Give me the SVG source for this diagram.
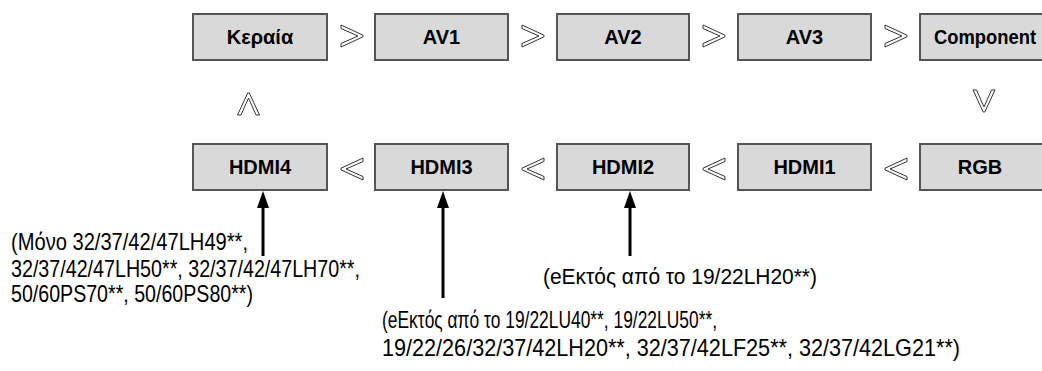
<svg xmlns="http://www.w3.org/2000/svg" width="1042" height="371" viewBox="0 0 1042 371">
<style>
.box{fill:#d9d9d9;stroke:#555;stroke-width:2}
.lbl{font-family:"Liberation Sans",Arial,sans-serif;font-weight:bold;font-size:20px;fill:#000;text-anchor:middle}
.note{font-family:"Liberation Sans",Arial,sans-serif;font-size:24px;fill:#000}
.note2{font-family:"Liberation Sans",Arial,sans-serif;font-size:22px;fill:#000}
.chev{fill:#fff;stroke:#333;stroke-width:1}
.line{stroke:#000;stroke-width:3;fill:none}
.head{fill:#000}
</style>
<defs>
<polygon id="chR" class="chev" points="-11,-11 11,-0.8 11,0.8 -11,11 -11,7.5 6,0 -11,-7.5"/>
<polygon id="ah" class="head" points="0,0 -6,17 6,17"/>
</defs>
<rect width="1042" height="371" fill="#fff"/>
<g id="n-keraia"><rect class="box" x="193" y="14" width="134" height="46"/><text class="lbl" x="260" y="44">Κεραία</text></g>
<g id="n-av1"><rect class="box" x="375" y="14" width="133" height="46"/><text class="lbl" x="441.5" y="44">AV1</text></g>
<g id="n-av2"><rect class="box" x="557" y="14" width="132" height="46"/><text class="lbl" x="623" y="44">AV2</text></g>
<g id="n-av3"><rect class="box" x="738" y="14" width="133" height="46"/><text class="lbl" x="804.5" y="44">AV3</text></g>
<g id="n-component"><rect class="box" x="920" y="14" width="134" height="46"/><text class="lbl" x="985" y="44" textLength="102" lengthAdjust="spacingAndGlyphs">Component</text></g>
<g id="n-hdmi4"><rect class="box" x="193" y="144" width="134" height="46"/><text class="lbl" x="260" y="174">HDMI4</text></g>
<g id="n-hdmi3"><rect class="box" x="375" y="144" width="133" height="46"/><text class="lbl" x="441.5" y="174">HDMI3</text></g>
<g id="n-hdmi2"><rect class="box" x="557" y="144" width="132" height="46"/><text class="lbl" x="623" y="174">HDMI2</text></g>
<g id="n-hdmi1"><rect class="box" x="738" y="144" width="133" height="46"/><text class="lbl" x="804.5" y="174">HDMI1</text></g>
<g id="n-rgb"><rect class="box" x="920" y="144" width="134" height="46"/><text class="lbl" x="980" y="174">RGB</text></g>
<g id="connectors">
<use href="#chR" transform="translate(352,36)"/>
<use href="#chR" transform="translate(533,36)"/>
<use href="#chR" transform="translate(714,36)"/>
<use href="#chR" transform="translate(896,36)"/>
<use href="#chR" transform="translate(984,101) rotate(90)"/>
<use href="#chR" transform="translate(896,169) rotate(180)"/>
<use href="#chR" transform="translate(714,169) rotate(180)"/>
<use href="#chR" transform="translate(533,169) rotate(180)"/>
<use href="#chR" transform="translate(352,169) rotate(180)"/>
<use href="#chR" transform="translate(248.5,104) rotate(-90)"/>
<line class="line" x1="263" y1="256" x2="263" y2="205"/>
<use href="#ah" transform="translate(263,191)"/>
<line class="line" x1="443" y1="298" x2="443" y2="205"/>
<use href="#ah" transform="translate(443,191)"/>
<line class="line" x1="630" y1="256" x2="630" y2="205"/>
<use href="#ah" transform="translate(630,191)"/>
</g>
<g id="notes">
<text class="note" x="11" y="250" textLength="237" lengthAdjust="spacingAndGlyphs">(Μόνο 32/37/42/47LH49**,</text>
<text class="note" x="11" y="277" textLength="349" lengthAdjust="spacingAndGlyphs">32/37/42/47LH50**, 32/37/42/47LH70**,</text>
<text class="note" x="11" y="302" textLength="242" lengthAdjust="spacingAndGlyphs">50/60PS70**, 50/60PS80**)</text>
<text class="note2" x="543" y="284" textLength="274" lengthAdjust="spacingAndGlyphs">(eΕκτός από το 19/22LH20**)</text>
<text class="note" x="382" y="328" textLength="335" lengthAdjust="spacingAndGlyphs">(eΕκτός από το 19/22LU40**, 19/22LU50**,</text>
<text class="note" x="382" y="356" textLength="578" lengthAdjust="spacingAndGlyphs">19/22/26/32/37/42LH20**, 32/37/42LF25**, 32/37/42LG21**)</text>
</g>
</svg>
